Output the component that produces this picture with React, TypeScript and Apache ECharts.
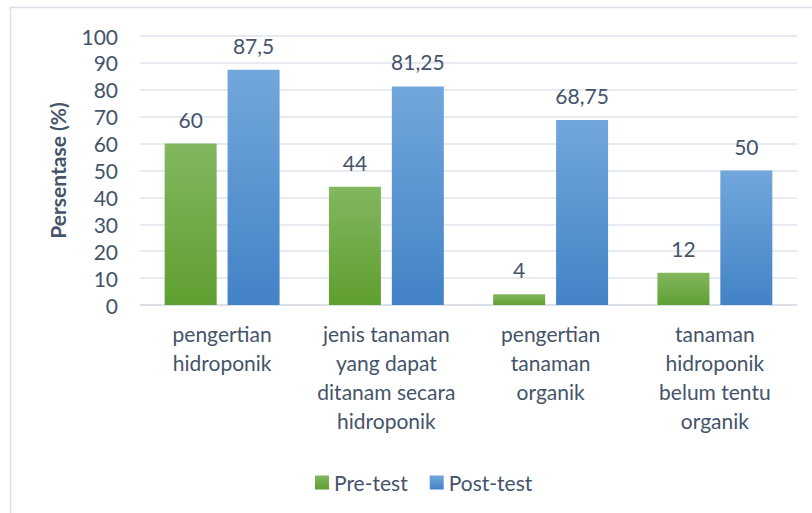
import React, { useEffect, useRef } from "react";
import * as echarts from "echarts";

const categories = [
  "pengertian\nhidroponik",
  "jenis tanaman\nyang dapat\nditanam secara\nhidroponik",
  "pengertian\ntanaman\norganik",
  "tanaman\nhidroponik\nbelum tentu\norganik",
];
const preTest = [60, 44, 4, 12];
const postTest = [87.5, 81.25, 68.75, 50];
const seriesNames = ["Pre-test", "Post-test"];
const yTicks = { min: 0, max: 100, interval: 10 };

const FONT = "Lato";
const TEXT = "#44546a";

const fmt = (v: number) => String(v).replace(".", ",");

export default function App() {
  const ref = useRef<HTMLDivElement>(null);
  useEffect(() => {
    document.body.style.margin = "0";
    const chart = echarts.init(ref.current!, null, { renderer: "svg" });
    const grad = (top: string, bottom: string) =>
      new echarts.graphic.LinearGradient(0, 0, 0, 1, [
        { offset: 0, color: top },
        { offset: 1, color: bottom },
      ]);
    const green = grad("#82b75f", "#5f9f30");
    const blue = grad("#72a7dc", "#4283c6");
    chart.setOption({
      animation: false,
      backgroundColor: "#ffffff",
      textStyle: { fontFamily: FONT },
      graphic: [
        {
          type: "rect",
          shape: { x: 10.5, y: 7.5, width: 820, height: 520 },
          style: { fill: "none", stroke: "#dbe0e8", lineWidth: 1.5 },
          silent: true,
        },
      ],
      grid: { left: 140, right: 15, top: 36, bottom: 208 },
      legend: {
        left: 310,
        top: 467,
        itemWidth: 14,
        itemHeight: 14,
        itemGap: 22,
        icon: "rect",
        textStyle: { fontFamily: FONT, fontSize: 21, color: TEXT, padding: [0, 0, 0, 0] },
        data: seriesNames,
      },
      xAxis: {
        type: "category",
        data: categories,
        axisLine: { lineStyle: { color: "#d9dee6", width: 1.5 } },
        axisTick: { show: false },
        axisLabel: {
          fontFamily: FONT,
          fontSize: 21,
          color: TEXT,
          lineHeight: 29,
          margin: 14,
          interval: 0,
          align: "center",
        },
      },
      yAxis: {
        type: "value",
        min: yTicks.min,
        max: yTicks.max,
        interval: yTicks.interval,
        name: "Persentase (%)",
        nameLocation: "middle",
        nameGap: 72,
        nameRotate: 90,
        nameTextStyle: { fontFamily: FONT, fontSize: 21, fontWeight: "bold", color: TEXT },
        axisLine: { show: false },
        axisTick: { show: false },
        axisLabel: { fontFamily: FONT, fontSize: 21, color: TEXT, margin: 22 },
        splitLine: { lineStyle: { color: "#dfe4ec", width: 1.5 } },
      },
      series: [
        {
          name: seriesNames[0],
          type: "bar",
          data: preTest,
          barWidth: 52,
          barGap: "21%",
          itemStyle: { color: green },
          label: {
            show: true,
            position: "top",
            distance: 14,
            fontFamily: FONT,
            fontSize: 21,
            color: TEXT,
            formatter: (p: any) => fmt(p.value),
          },
        },
        {
          name: seriesNames[1],
          type: "bar",
          data: postTest,
          barWidth: 52,
          barGap: "21%",
          itemStyle: { color: blue },
          label: {
            show: true,
            position: "top",
            distance: 14,
            fontFamily: FONT,
            fontSize: 21,
            color: TEXT,
            formatter: (p: any) => fmt(p.value),
          },
        },
      ],
    });
    return () => chart.dispose();
  }, []);
  return <div ref={ref} style={{ width: 812, height: 513 }} />;
}
